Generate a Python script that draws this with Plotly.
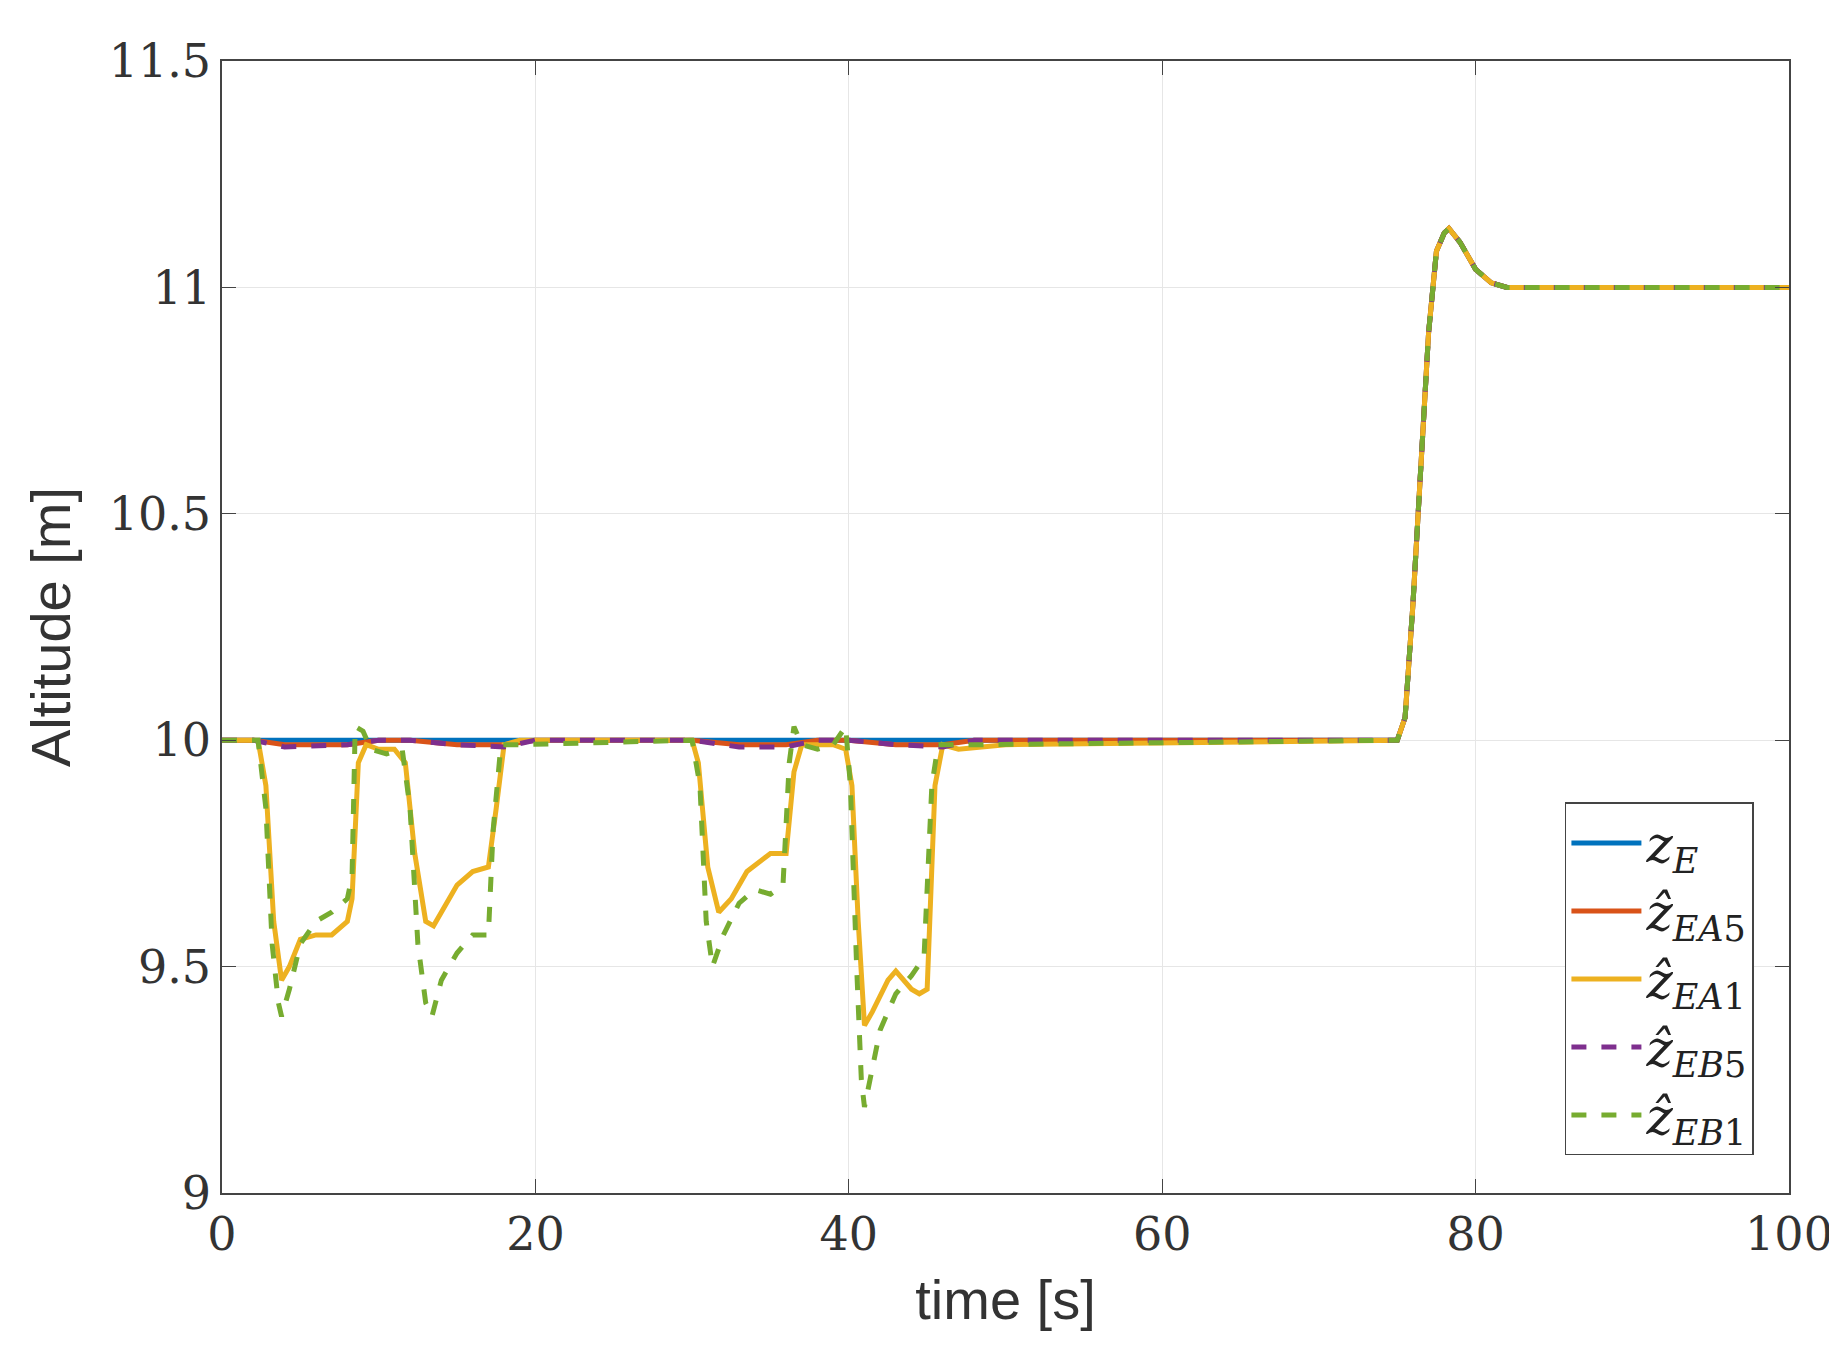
import plotly.graph_objects as go

# shared ramp at t=75 s to the 11 m setpoint
ramp_t = [75, 75.5, 76, 76.5, 77, 77.5, 78, 78.3, 79, 80, 81, 82, 90, 100]
ramp_z = [10, 10.05, 10.3, 10.6, 10.9, 11.08, 11.12, 11.13, 11.1, 11.04, 11.01, 11.0, 11.0, 11.0]

t_E = [0] + ramp_t
z_E = [10] + ramp_z

t_A5 = [0, 2, 4, 8, 10, 12, 15, 18, 20, 30, 33, 36, 38, 40, 43, 46, 48] + ramp_t
z_A5 = [10, 10, 9.99, 9.99, 10, 10, 9.99, 9.99, 10, 10, 9.99, 9.99, 10, 10, 9.99, 9.99, 10] + ramp_z

t_B5 = [0, 2, 4, 8, 10, 12, 15, 18, 20, 30, 33, 36, 38, 40, 43, 46, 48] + ramp_t
z_B5 = [10, 10, 9.985, 9.99, 10, 10, 9.99, 9.985, 10, 10, 9.985, 9.985, 10, 10, 9.99, 9.985, 10] + ramp_z

t_A1 = [0, 2.3, 2.8, 3.3, 3.8, 4.3, 5, 6, 7, 8, 8.3, 8.7, 9.2, 10, 11, 11.7, 12.3, 13, 13.5, 14, 15, 16, 17,
        17.5, 18, 19, 30, 30.4, 31, 31.7, 32.5, 33.5, 35, 36, 36.5, 37, 38, 39, 39.8, 40.2, 40.6, 41, 41.5,
        42.5, 43, 44, 44.5, 45, 45.5, 46, 47, 50] + ramp_t
z_A1 = [10, 10, 9.9, 9.6, 9.47, 9.5, 9.56, 9.57, 9.57, 9.6, 9.65, 9.95, 9.99, 9.98, 9.98, 9.95, 9.75, 9.6, 9.59,
        9.62, 9.68, 9.71, 9.72, 9.85, 9.99, 10, 10, 9.95, 9.72, 9.62, 9.65, 9.71, 9.75, 9.75, 9.93, 9.99, 9.99,
        9.99, 9.98, 9.9, 9.6, 9.37, 9.4, 9.47, 9.49, 9.45, 9.44, 9.45, 9.9, 9.99, 9.98, 9.99] + ramp_z

t_B1 = [0, 2.3, 2.8, 3.2, 3.6, 3.8, 4.3, 5, 6, 7, 8, 8.3, 8.5, 9, 9.5, 10.5, 11.5, 12, 12.5, 13, 13.4, 14, 15,
        16, 17, 17.3, 17.8, 19, 30, 30.5, 30.9, 31.3, 32, 33, 34, 35, 35.8, 36.2, 36.5, 37, 38, 39, 39.8, 40.1,
        40.5, 40.8, 41, 41.5, 42, 43, 44, 44.8, 45.3, 45.7, 48] + ramp_t
z_B1 = [10, 10, 9.85, 9.55, 9.42, 9.39, 9.45, 9.55, 9.6, 9.62, 9.65, 9.7, 10.03, 10.02, 9.98, 9.97, 9.98, 9.85,
        9.55, 9.42, 9.39, 9.47, 9.53, 9.57, 9.57, 9.8, 9.99, 9.99, 10, 9.9, 9.6, 9.5, 9.57, 9.64, 9.67, 9.66,
        9.68, 9.95, 10.03, 9.99, 9.98, 9.99, 10.03, 9.9, 9.5, 9.25, 9.19, 9.28, 9.36, 9.44, 9.48, 9.52, 9.9,
        9.99, 9.99] + ramp_z

series = [
    ("<i>z</i><sub><i>E</i></sub>", t_E, z_E, "#0072BD", "solid"),
    ("<i>ẑ</i><sub><i>EA</i>5</sub>", t_A5, z_A5, "#D95319", "solid"),
    ("<i>ẑ</i><sub><i>EA</i>1</sub>", t_A1, z_A1, "#EDB120", "solid"),
    ("<i>ẑ</i><sub><i>EB</i>5</sub>", t_B5, z_B5, "#7E2F8E", "dash"),
    ("<i>ẑ</i><sub><i>EB</i>1</sub>", t_B1, z_B1, "#77AC30", "dash"),
]

fig = go.Figure()
for name, t, z, color, dash in series:
    fig.add_trace(go.Scatter(x=t, y=z, mode="lines", name=name,
                             line=dict(color=color, width=5, dash=dash)))

axis = dict(showline=True, linecolor="#444", linewidth=1.5, mirror="ticks", ticks="inside",
            ticklen=14, tickcolor="#444", showgrid=True, gridcolor="#e6e6e6", zeroline=False,
            tickfont=dict(family="DejaVu Serif", size=46, color="#333"))

fig.update_layout(
    width=1837, height=1365,
    margin=dict(l=214, r=54, t=53, b=180),
    plot_bgcolor="white", paper_bgcolor="white",
    xaxis=dict(axis, range=[0, 100], dtick=20,
               title=dict(text="time [s]", standoff=20,
                          font=dict(family="Liberation Sans", size=56, color="#333"))),
    yaxis=dict(axis, range=[9, 11.5], dtick=0.5,
               title=dict(text="Altitude [m]", standoff=20,
                          font=dict(family="Liberation Sans", size=56, color="#333"))),
    legend=dict(x=0.857, y=0.345, xanchor="left", yanchor="top", bordercolor="#444", borderwidth=1.5,
                bgcolor="white", font=dict(family="DejaVu Serif", size=50, color="#222"),
                itemwidth=70, tracegroupgap=14),
    showlegend=True,
)

fig.write_html("out.html")
